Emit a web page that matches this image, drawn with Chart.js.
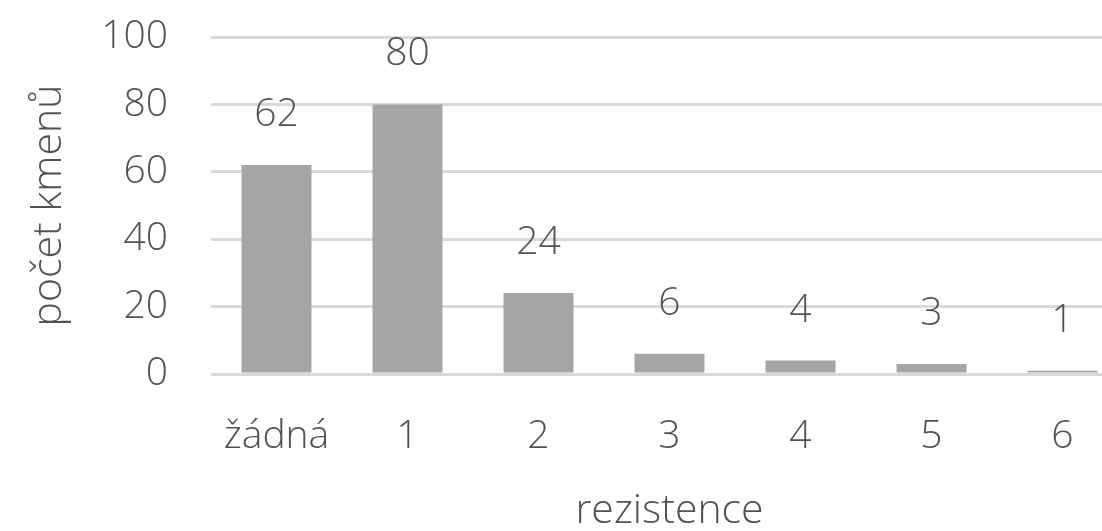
<!DOCTYPE html>
<html>
<head>
<meta charset="utf-8">
<script src="https://cdn.jsdelivr.net/npm/chart.js"></script>
<style>
  html, body { margin: 0; padding: 0; background: #fff; overflow: hidden; }
  #wrap { width: 1128px; height: 531px; }
</style>
</head>
<body>
<div id="wrap"><canvas id="myChart" width="1128" height="531"></canvas></div>
<script>
// data
var kategorie = ["žádná", "1", "2", "3", "4", "5", "6"];
var pocty = [62, 80, 24, 6, 4, 3, 1];
var yTicks = [0, 20, 40, 60, 80, 100];

var sedaText = "#525252";
var pismo = "'Open Sans', 'DejaVu Sans', sans-serif";
var vaha = 300;
var velikost = 39;
var velikostNadpisu = 41;

// popisky nad sloupci
const popisky = {
  id: "popisky",
  afterDatasetsDraw(chart) {
    const ctx = chart.ctx;
    ctx.save();
    ctx.fillStyle = sedaText;
    ctx.font = vaha + " " + velikost + "px " + pismo;
    ctx.textAlign = "center";
    ctx.textBaseline = "alphabetic";
    chart.getDatasetMeta(0).data.forEach((bar, i) => {
      ctx.fillText(String(pocty[i]), bar.x, bar.y - 39);
    });
    ctx.restore();
  }
};

new Chart("myChart", {
  type: "bar",
  data: {
    labels: kategorie,
    datasets: [{
      data: pocty,
      backgroundColor: "#a5a5a5",
      categoryPercentage: 1,
      barPercentage: 0.534
    }]
  },
  options: {
    responsive: false,
    animation: false,
    layout: { padding: { left: 0, right: 0, top: 37, bottom: 0 } },
    plugins: {
      legend: { display: false },
      tooltip: { enabled: false }
    },
    scales: {
      x: {
        grid: { display: false, drawTicks: false },
        border: { display: false },
        ticks: {
          color: sedaText,
          padding: 39,
          font: { family: pismo, size: velikost, weight: vaha }
        },
        title: {
          display: true,
          text: "rezistence",
          color: sedaText,
          padding: { top: 0, bottom: -5 },
          font: { family: pismo, size: velikostNadpisu, weight: vaha }
        },
        afterFit: s => { s.height = 157; }
      },
      y: {
        min: yTicks[0],
        max: yTicks[yTicks.length - 1],
        grid: { color: "#d9d9d9", lineWidth: 3, drawTicks: false },
        border: { display: false },
        ticks: {
          stepSize: yTicks[1] - yTicks[0],
          color: sedaText,
          padding: 43,
          font: { family: pismo, size: velikost, weight: vaha }
        },
        title: {
          display: true,
          text: "počet kmenů",
          color: sedaText,
          padding: { top: 25, bottom: 0 },
          font: { family: pismo, size: velikostNadpisu, weight: vaha }
        },
        afterFit: s => {
          s.width = 211;
          s.paddingTop = 0;
          s.paddingBottom = 0;
        }
      }
    }
  },
  plugins: [popisky]
});
</script>
</body>
</html>
